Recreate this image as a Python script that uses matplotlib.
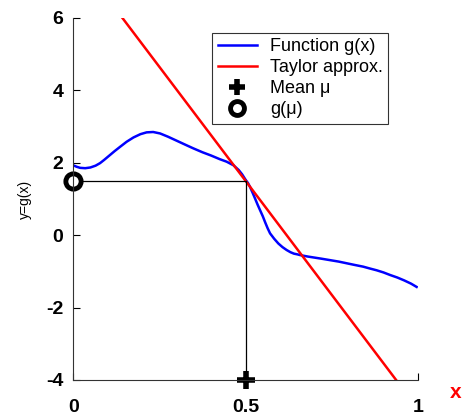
import numpy as np
import matplotlib.pyplot as plt
from matplotlib.lines import Line2D

# Function g(x)
x_g = [0.0, 0.01, 0.02, 0.035, 0.05, 0.065, 0.078, 0.09, 0.105, 0.12, 0.136,
       0.155, 0.175, 0.195, 0.213, 0.232, 0.252, 0.275, 0.30, 0.325, 0.348,
       0.375, 0.40, 0.425, 0.445, 0.465, 0.48, 0.49, 0.5, 0.507, 0.513, 0.52,
       0.528, 0.535, 0.542, 0.55, 0.557, 0.564, 0.571, 0.583, 0.595, 0.607,
       0.619, 0.63, 0.64, 0.65, 0.658, 0.68, 0.70, 0.72, 0.745, 0.77, 0.79,
       0.815, 0.841, 0.86, 0.88, 0.90, 0.919, 0.94, 0.96, 0.98, 0.996]
y_g = [1.93, 1.89, 1.86, 1.85, 1.87, 1.92, 1.99, 2.08, 2.20, 2.32, 2.44,
       2.58, 2.70, 2.79, 2.84, 2.85, 2.81, 2.72, 2.61, 2.50, 2.40,
       2.29, 2.20, 2.10, 2.03, 1.93, 1.80, 1.68, 1.53, 1.44, 1.33, 1.18,
       1.00, 0.84, 0.69, 0.52, 0.35, 0.19, 0.05, -0.10, -0.23, -0.33,
       -0.41, -0.47, -0.51, -0.53, -0.55, -0.59, -0.62, -0.65, -0.69, -0.73, -0.77,
       -0.82, -0.87, -0.92, -0.97, -1.03, -1.10, -1.17, -1.25, -1.34, -1.43]

# Taylor approximation (tangent at the mean)
mu = 0.5
g_mu = 1.5
slope = -12.6
x_t = [0.14, 0.94]
y_t = [g_mu + slope * (xx - mu) for xx in x_t]

plt.rcParams['font.family'] = ['Liberation Sans', 'DejaVu Sans']
plt.rcParams['axes.unicode_minus'] = False

fig = plt.figure(figsize=(4.66, 4.18), dpi=100)
ax = fig.add_axes([0.157, 0.091, 0.740, 0.866])

ax.plot(x_g, y_g, color='blue', lw=1.8)
ax.plot(x_t, y_t, color='red', lw=1.8)
ax.plot([0, mu, mu], [g_mu, g_mu, -4], color='black', lw=0.9)
ax.plot(mu, -4, '+', color='black', ms=13, mew=4, clip_on=False)
ax.plot(0, g_mu, 'o', mfc='white', mec='black', ms=11, mew=3.5, clip_on=False)

ax.set_xlim(0, 1)
ax.set_ylim(-4, 6)
ax.set_xticks([0, 0.5, 1])
ax.set_xticklabels(['0', '0.5', '1'])
ax.set_yticks([-4, -2, 0, 2, 4, 6])
for s in ['top', 'right']:
    ax.spines[s].set_visible(False)
for s in ['left', 'bottom']:
    ax.spines[s].set_linewidth(0.8)
    ax.spines[s].set_color('#333333')
ax.tick_params(direction='in', length=5, width=0.8, labelsize=14)
ax.tick_params(axis='y', pad=7)
ax.tick_params(axis='x', pad=14)
for lab in ax.get_xticklabels() + ax.get_yticklabels():
    lab.set_fontweight('bold')

ax.set_ylabel('y=g(x)', fontsize=10, labelpad=10)

handles = [
    Line2D([], [], color='blue', lw=1.8),
    Line2D([], [], color='red', lw=1.8),
    Line2D([], [], ls='none', marker='+', color='black', ms=11, mew=4),
    Line2D([], [], ls='none', marker='o', mfc='white', mec='black', ms=10, mew=3.5),
]
labels = ['Function g(x)', 'Taylor approx.', 'Mean μ', 'g(μ)']
leg = ax.legend(handles, labels, loc='upper left',
                bbox_to_anchor=((212 - 73) / 345, (380 - 33) / 362),
                fontsize=13, frameon=True, fancybox=False, edgecolor='black',
                handlelength=2.2, borderpad=0.3, labelspacing=0.22,
                handletextpad=0.7, borderaxespad=0)
leg.get_frame().set_linewidth(0.8)

fig.text(0.977, 0.06, 'x', color='red', fontsize=15, fontweight='bold',
         ha='center', va='center')

fig.savefig('out.png', dpi=100)
